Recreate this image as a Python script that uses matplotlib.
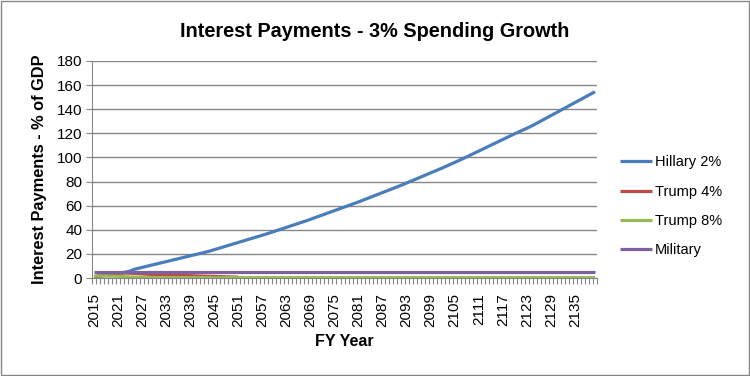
import matplotlib
matplotlib.use("Agg")
import matplotlib.pyplot as plt
from matplotlib.patches import Rectangle
import numpy as np

plt.rcParams["font.family"] = ["Liberation Sans", "DejaVu Sans"]

# fiscal years on the category axis
years = list(range(2015, 2141))

hillary_2 = [
    1.0, 1.4, 1.8, 2.2, 2.7, 3.2, 3.8, 4.4, 5.0, 5.8,
    7.2, 8.0, 8.8, 9.6, 10.4, 11.2, 12.0, 12.8, 13.6, 14.4,
    15.2, 16.0, 16.8, 17.6, 18.4, 19.2, 20.0, 20.8, 21.6, 22.5,
    23.5, 24.5, 25.5, 26.5, 27.5, 28.5, 29.5, 30.5, 31.5, 32.5,
    33.5, 34.5, 35.5, 36.5, 37.6, 38.7, 39.8, 40.9, 42.0, 43.1,
    44.2, 45.3, 46.4, 47.5, 48.7, 49.9, 51.1, 52.3, 53.5, 54.7,
    55.9, 57.1, 58.3, 59.5, 60.7, 61.9, 63.1, 64.4, 65.7, 67.0,
    68.3, 69.6, 70.9, 72.2, 73.5, 74.8, 76.1, 77.4, 78.8, 80.2,
    81.6, 83.0, 84.4, 85.8, 87.2, 88.6, 90.0, 91.4, 92.9, 94.4,
    95.9, 97.4, 98.9, 100.5, 102.1, 103.7, 105.3, 106.9, 108.5, 110.1,
    111.7, 113.3, 114.9, 116.5, 118.1, 119.7, 121.2, 122.7, 124.2, 125.8,
    127.5, 129.3, 131.1, 132.9, 134.7, 136.5, 138.3, 140.1, 141.9, 143.7,
    145.5, 147.3, 149.1, 150.9, 152.7, 154.5,
]

# Trump 4% line stops around 2051
trump_4 = [
    1.2, 1.6, 2.0, 2.5, 3.0, 3.4, 3.8, 4.0, 4.1, 4.0,
    3.8, 3.6, 3.4, 3.2, 3.0, 2.9, 2.8, 2.7, 2.6, 2.5,
    2.4, 2.2, 2.1, 2.0, 1.9, 1.8, 1.7, 1.6, 1.5, 1.4,
    1.3, 1.2, 1.1, 1.0, 0.9, 0.8, 0.7,
]

trump_8 = [
    1.5, 1.6, 1.7, 1.7, 1.6, 1.5, 1.4, 1.3, 1.1, 0.9,
    0.7, 0.6, 0.5, 0.4, 0.4, 0.3, 0.3, 0.3, 0.3, 0.3,
    0.3, 0.3, 0.3, 0.3, 0.3, 0.3, 0.3, 0.3, 0.3, 0.3,
    0.3, 0.3, 0.3, 0.3, 0.3, 0.3, 0.3, 0.3, 0.3, 0.3,
    0.3, 0.3, 0.3, 0.3, 0.3, 0.3, 0.3, 0.3, 0.3, 0.3,
    0.3, 0.3, 0.3, 0.3, 0.3, 0.3, 0.3, 0.3, 0.3, 0.3,
    0.3, 0.3, 0.3, 0.3, 0.3, 0.3, 0.3, 0.3, 0.3, 0.3,
    0.3, 0.3, 0.3, 0.3, 0.3, 0.3, 0.3, 0.3, 0.3, 0.3,
    0.3, 0.3, 0.3, 0.3, 0.3, 0.3, 0.3, 0.3, 0.3, 0.3,
    0.3, 0.3, 0.3, 0.3, 0.3, 0.3, 0.3, 0.3, 0.3, 0.3,
    0.3, 0.3, 0.3, 0.3, 0.3, 0.3, 0.3, 0.3, 0.3, 0.3,
    0.3, 0.3, 0.3, 0.3, 0.3, 0.3, 0.3, 0.3, 0.3, 0.3,
    0.3, 0.3, 0.3, 0.3, 0.3, 0.3,
]

military = [
    5.3, 5.3, 5.3, 5.3, 5.3, 5.3, 5.3, 5.3, 5.3, 5.3,
    5.3, 5.3, 5.3, 5.3, 5.3, 5.3, 5.3, 5.3, 5.3, 5.3,
    5.3, 5.3, 5.3, 5.3, 5.3, 5.3, 5.3, 5.3, 5.3, 5.3,
    5.3, 5.3, 5.3, 5.3, 5.3, 5.3, 5.3, 5.3, 5.3, 5.3,
    5.3, 5.3, 5.3, 5.3, 5.3, 5.3, 5.3, 5.3, 5.3, 5.3,
    5.3, 5.3, 5.3, 5.3, 5.3, 5.3, 5.3, 5.3, 5.3, 5.3,
    5.3, 5.3, 5.3, 5.3, 5.3, 5.3, 5.3, 5.3, 5.3, 5.3,
    5.3, 5.3, 5.3, 5.3, 5.3, 5.3, 5.3, 5.3, 5.3, 5.3,
    5.3, 5.3, 5.3, 5.3, 5.3, 5.3, 5.3, 5.3, 5.3, 5.3,
    5.3, 5.3, 5.3, 5.3, 5.3, 5.3, 5.3, 5.3, 5.3, 5.3,
    5.3, 5.3, 5.3, 5.3, 5.3, 5.3, 5.3, 5.3, 5.3, 5.3,
    5.3, 5.3, 5.3, 5.3, 5.3, 5.3, 5.3, 5.3, 5.3, 5.3,
    5.3, 5.3, 5.3, 5.3, 5.3, 5.3,
]

series = [
    ("Hillary 2%", hillary_2, "#4A7EBB"),
    ("Trump 4%", trump_4, "#BE4B48"),
    ("Trump 8%", trump_8, "#98B954"),
    ("Military", military, "#7D60A0"),
]

label_years = years[::6]

grid_col = "#868686"

fig = plt.figure(figsize=(7.5, 3.76), dpi=100)
ax = fig.add_axes([0.1227, 0.2606, 0.6733, 0.5772])

for name, vals, col in series:
    ax.plot(years[:len(vals)], vals, color=col, lw=2.3, label=name,
            solid_capstyle="butt")

ax.set_xlim(years[0] - 0.5, years[-1] + 0.5)
ax.set_ylim(0, 180)
ax.set_yticks(np.arange(0, 181, 20))
ax.yaxis.grid(True, color=grid_col, lw=1)
ax.set_axisbelow(True)

ax.set_xticks(label_years)
ax.set_xticklabels([str(y) for y in label_years], rotation=90, fontsize=11)
ax.set_xticks(np.arange(years[0] - 0.5, years[-1] + 1, 1), minor=True)
ax.tick_params(axis="x", which="major", length=0, pad=11)
ax.tick_params(axis="x", which="minor", length=4, color=grid_col, width=0.8)
ax.tick_params(axis="y", length=4, color=grid_col, labelsize=11, pad=3)

for side in ("top", "right"):
    ax.spines[side].set_visible(False)
for side in ("left", "bottom"):
    ax.spines[side].set_color(grid_col)

ax.set_ylabel("Interest Payments - % of GDP", fontsize=11.8, fontweight="bold",
              labelpad=7)
ax.set_xlabel("FY Year", fontsize=11.5, fontweight="bold", labelpad=5)

fig.suptitle("Interest Payments - 3% Spending Growth", fontsize=14.3,
             fontweight="bold", x=0.5, y=0.942)

leg = ax.legend(loc="center left", bbox_to_anchor=(1.02, 0.33), frameon=False,
                fontsize=10.5, handlelength=2.2, handletextpad=0.2,
                labelspacing=1.05)

fig.patches.append(Rectangle((0.001, 0.002), 0.997, 0.995, transform=fig.transFigure,
                             fill=False, edgecolor="#868686", lw=1))

fig.savefig("out.png", dpi=100)
